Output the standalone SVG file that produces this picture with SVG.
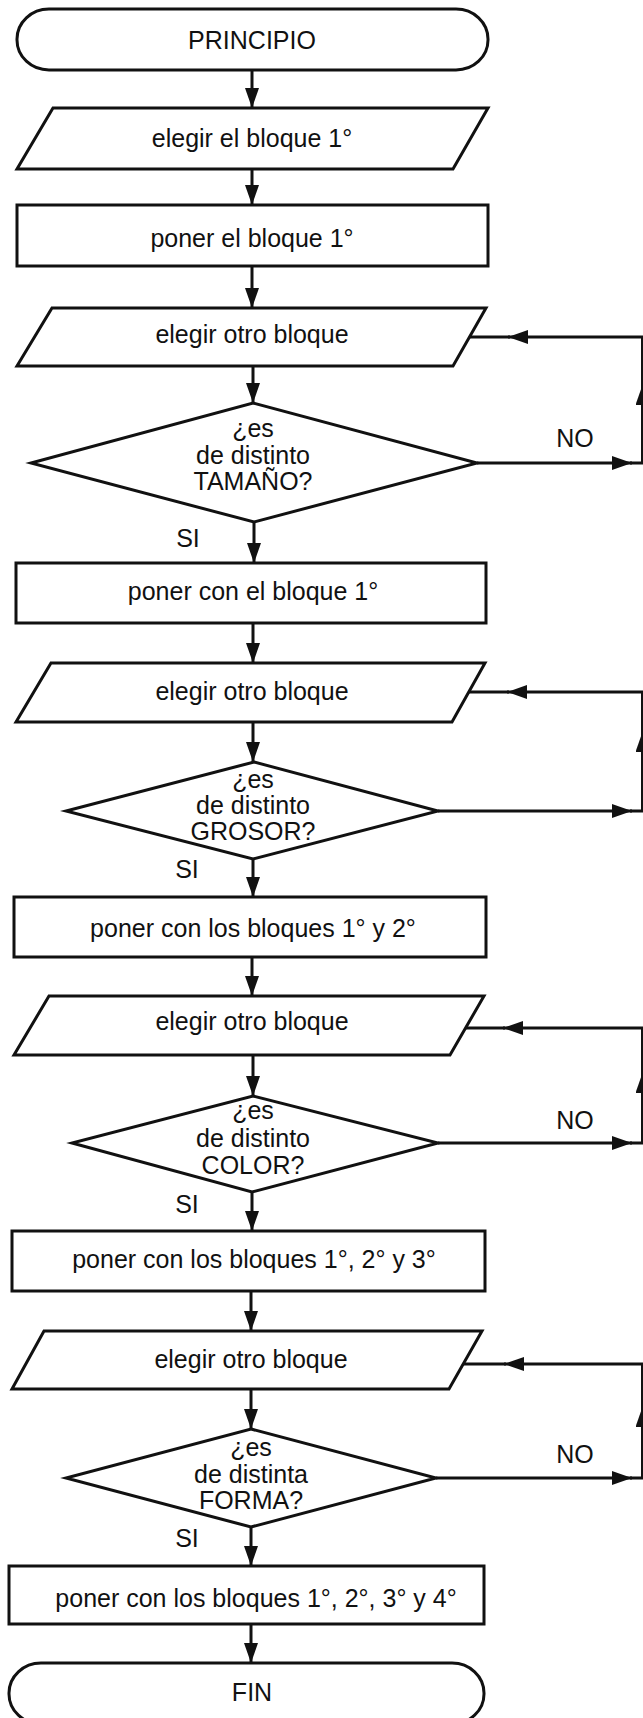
<svg xmlns="http://www.w3.org/2000/svg" width="643" height="1718" viewBox="0 0 643 1718">
  <defs>
    <marker id="arrow" viewBox="0 0 20 14" refX="20" refY="7" markerWidth="20" markerHeight="14" markerUnits="userSpaceOnUse" orient="auto">
      <path d="M0,0 L20,7 L0,14 z" fill="#111"/>
    </marker>
    <style>
      .shape { fill: #fff; stroke: #111; stroke-width: 3; stroke-linejoin: miter; }
      .conn { fill: none; stroke: #111; stroke-width: 3; }
      .arr { marker-end: url(#arrow); }
      text { font-family: "Liberation Sans", Arial, Helvetica, sans-serif; font-size: 25px; fill: #111; text-anchor: middle; }
    </style>
  </defs>

  <rect width="643" height="1718" fill="#fff"/>

  <!-- flow connectors -->
  <g id="connectors">
    <path class="conn arr" d="M252,70 V108"/>
    <path class="conn arr" d="M252,169 V205"/>
    <path class="conn arr" d="M252,266 V308"/>
    <path class="conn arr" d="M253,366 V403"/>
    <path class="conn arr" d="M254,522 V563"/>
    <path class="conn arr" d="M253,623 V663"/>
    <path class="conn arr" d="M253,722 V762"/>
    <path class="conn arr" d="M253,859 V897"/>
    <path class="conn arr" d="M252,957 V996"/>
    <path class="conn arr" d="M253,1055 V1096"/>
    <path class="conn arr" d="M252,1192 V1231"/>
    <path class="conn arr" d="M251,1291 V1331"/>
    <path class="conn arr" d="M251,1389 V1429"/>
    <path class="conn arr" d="M251,1527 V1566"/>
    <path class="conn arr" d="M251,1624 V1663"/>

    <!-- loop: size -->
    <path class="conn arr" d="M477,463 H632"/>
    <path class="conn arr" d="M630,463 H642.5 V385"/>
    <path class="conn arr" d="M642.5,387 V337 H508"/>
    <path class="conn" d="M510,337 H469"/>

    <!-- loop: thickness -->
    <path class="conn arr" d="M438,811 H632"/>
    <path class="conn arr" d="M630,811 H642.5 V732"/>
    <path class="conn arr" d="M642.5,734 V692 H507"/>
    <path class="conn" d="M509,692 H468"/>

    <!-- loop: colour -->
    <path class="conn arr" d="M438,1143 H632"/>
    <path class="conn arr" d="M630,1143 H642.5 V1073"/>
    <path class="conn arr" d="M642.5,1075 V1028 H503"/>
    <path class="conn" d="M505,1028 H465"/>

    <!-- loop: shape -->
    <path class="conn arr" d="M436,1478 H632"/>
    <path class="conn arr" d="M630,1478 H642.5 V1407"/>
    <path class="conn arr" d="M642.5,1409 V1364 H504"/>
    <path class="conn" d="M506,1364 H463"/>

    <text x="575" y="447">NO</text>
    <text x="575" y="1129">NO</text>
    <text x="575" y="1463">NO</text>
    <text x="188" y="547">SI</text>
    <text x="187" y="878">SI</text>
    <text x="187" y="1213">SI</text>
    <text x="187" y="1547">SI</text>
  </g>

  <g id="start">
    <rect class="shape" x="17" y="9" width="471" height="61" rx="32" ry="30"/>
    <text x="252" y="49">PRINCIPIO</text>
  </g>

  <g id="pick-first">
    <polygon class="shape" points="53,108 488,108 453,169 17,169"/>
    <text x="252" y="147">elegir el bloque 1°</text>
  </g>

  <g id="place-first">
    <rect class="shape" x="17" y="205" width="471" height="61"/>
    <text x="252" y="247">poner el bloque 1°</text>
  </g>

  <g id="pick-2">
    <polygon class="shape" points="52,308 486,308 453,366 17,366"/>
    <text x="252" y="343">elegir otro bloque</text>
  </g>

  <g id="ask-size">
    <polygon class="shape" points="253,403 477,463 254,522 31,463"/>
    <text x="253" y="437">¿es</text>
    <text x="253" y="464">de distinto</text>
    <text x="253" y="490">TAMAÑO?</text>
  </g>

  <g id="place-2">
    <rect class="shape" x="16" y="563" width="470" height="60"/>
    <text x="253" y="600">poner con el bloque 1°</text>
  </g>

  <g id="pick-3">
    <polygon class="shape" points="51,663 485,663 452,722 16,722"/>
    <text x="252" y="700">elegir otro bloque</text>
  </g>

  <g id="ask-thickness">
    <polygon class="shape" points="254,762 438,811 253,859 66,811"/>
    <text x="253" y="788">¿es</text>
    <text x="253" y="814">de distinto</text>
    <text x="253" y="840">GROSOR?</text>
  </g>

  <g id="place-3">
    <rect class="shape" x="14" y="897" width="472" height="60"/>
    <text x="253" y="937">poner con los bloques 1° y 2°</text>
  </g>

  <g id="pick-4">
    <polygon class="shape" points="49,996 484,996 450,1055 14,1055"/>
    <text x="252" y="1030">elegir otro bloque</text>
  </g>

  <g id="ask-colour">
    <polygon class="shape" points="253,1096 438,1143 252,1192 72,1143"/>
    <text x="253" y="1119">¿es</text>
    <text x="253" y="1147">de distinto</text>
    <text x="253" y="1174">COLOR?</text>
  </g>

  <g id="place-4">
    <rect class="shape" x="12" y="1231" width="473" height="60"/>
    <text x="254" y="1268">poner con los bloques 1°, 2° y 3°</text>
  </g>

  <g id="pick-5">
    <polygon class="shape" points="44,1331 482,1331 449,1389 12,1389"/>
    <text x="251" y="1368">elegir otro bloque</text>
  </g>

  <g id="ask-shape">
    <polygon class="shape" points="251,1429 436,1478 251,1527 66,1478"/>
    <text x="251" y="1456">¿es</text>
    <text x="251" y="1483">de distinta</text>
    <text x="251" y="1509">FORMA?</text>
  </g>

  <g id="place-5">
    <rect class="shape" x="9" y="1566" width="475" height="58"/>
    <text x="256" y="1607">poner con los bloques 1°, 2°, 3° y 4°</text>
  </g>

  <g id="end">
    <rect class="shape" x="9" y="1663" width="475" height="61" rx="32" ry="30"/>
    <text x="252" y="1701">FIN</text>
  </g>
</svg>
